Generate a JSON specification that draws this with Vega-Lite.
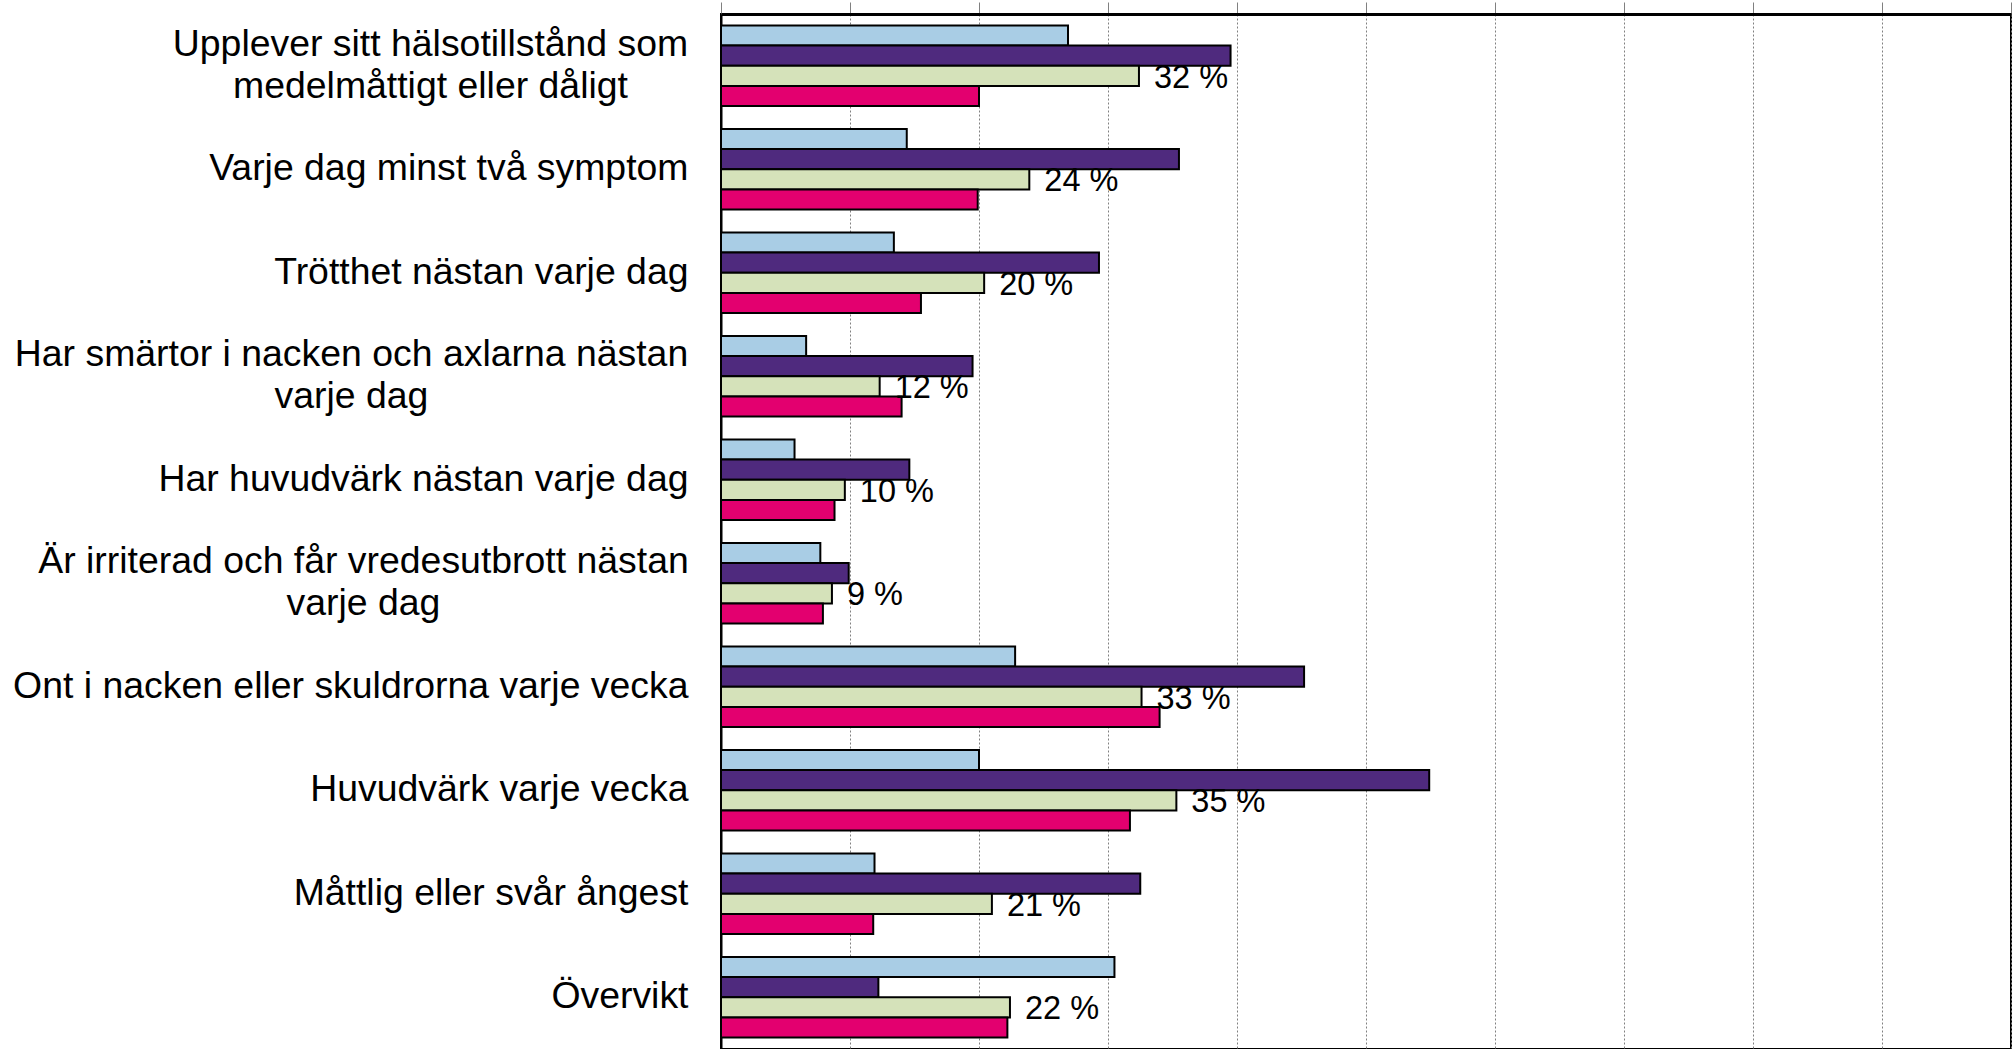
{
  "$schema": "https://vega.github.io/schema/vega-lite/v6.json",
  "width": 1290,
  "height": 1035,
  "autosize": {"type": "none"},
  "padding": {"left": 721, "top": 14, "right": 5, "bottom": 0},
  "background": "white",
  "config": {
    "view": {"stroke": "black", "strokeWidth": 2},
    "font": "Liberation Sans"
  },
  "data": {
    "values": [
      {"category": "Upplever sitt hälsotillstånd som|medelmåttigt eller dåligt", "series": "Serie 1", "value": 26.9},
      {"category": "Upplever sitt hälsotillstånd som|medelmåttigt eller dåligt", "series": "Serie 2", "value": 39.5},
      {"category": "Upplever sitt hälsotillstånd som|medelmåttigt eller dåligt", "series": "Serie 3", "value": 32.4, "label": "32 %"},
      {"category": "Upplever sitt hälsotillstånd som|medelmåttigt eller dåligt", "series": "Serie 4", "value": 20.0},
      {"category": "Varje dag minst två symptom", "series": "Serie 1", "value": 14.4},
      {"category": "Varje dag minst två symptom", "series": "Serie 2", "value": 35.5},
      {"category": "Varje dag minst två symptom", "series": "Serie 3", "value": 23.9, "label": "24 %"},
      {"category": "Varje dag minst två symptom", "series": "Serie 4", "value": 19.9},
      {"category": "Trötthet nästan varje dag", "series": "Serie 1", "value": 13.4},
      {"category": "Trötthet nästan varje dag", "series": "Serie 2", "value": 29.3},
      {"category": "Trötthet nästan varje dag", "series": "Serie 3", "value": 20.4, "label": "20 %"},
      {"category": "Trötthet nästan varje dag", "series": "Serie 4", "value": 15.5},
      {"category": "Har smärtor i nacken och axlarna nästan|varje dag", "series": "Serie 1", "value": 6.6},
      {"category": "Har smärtor i nacken och axlarna nästan|varje dag", "series": "Serie 2", "value": 19.5},
      {"category": "Har smärtor i nacken och axlarna nästan|varje dag", "series": "Serie 3", "value": 12.3, "label": "12 %"},
      {"category": "Har smärtor i nacken och axlarna nästan|varje dag", "series": "Serie 4", "value": 14.0},
      {"category": "Har huvudvärk nästan varje dag", "series": "Serie 1", "value": 5.7},
      {"category": "Har huvudvärk nästan varje dag", "series": "Serie 2", "value": 14.6},
      {"category": "Har huvudvärk nästan varje dag", "series": "Serie 3", "value": 9.6, "label": "10 %"},
      {"category": "Har huvudvärk nästan varje dag", "series": "Serie 4", "value": 8.8},
      {"category": "Är irriterad och får vredesutbrott nästan|varje dag", "series": "Serie 1", "value": 7.7},
      {"category": "Är irriterad och får vredesutbrott nästan|varje dag", "series": "Serie 2", "value": 9.9},
      {"category": "Är irriterad och får vredesutbrott nästan|varje dag", "series": "Serie 3", "value": 8.6, "label": "9 %"},
      {"category": "Är irriterad och får vredesutbrott nästan|varje dag", "series": "Serie 4", "value": 7.9},
      {"category": "Ont i nacken eller skuldrorna varje vecka", "series": "Serie 1", "value": 22.8},
      {"category": "Ont i nacken eller skuldrorna varje vecka", "series": "Serie 2", "value": 45.2},
      {"category": "Ont i nacken eller skuldrorna varje vecka", "series": "Serie 3", "value": 32.6, "label": "33 %"},
      {"category": "Ont i nacken eller skuldrorna varje vecka", "series": "Serie 4", "value": 34.0},
      {"category": "Huvudvärk varje vecka", "series": "Serie 1", "value": 20.0},
      {"category": "Huvudvärk varje vecka", "series": "Serie 2", "value": 54.9},
      {"category": "Huvudvärk varje vecka", "series": "Serie 3", "value": 35.3, "label": "35 %"},
      {"category": "Huvudvärk varje vecka", "series": "Serie 4", "value": 31.7},
      {"category": "Måttlig eller svår ångest", "series": "Serie 1", "value": 11.9},
      {"category": "Måttlig eller svår ångest", "series": "Serie 2", "value": 32.5},
      {"category": "Måttlig eller svår ångest", "series": "Serie 3", "value": 21.0, "label": "21 %"},
      {"category": "Måttlig eller svår ångest", "series": "Serie 4", "value": 11.8},
      {"category": "Övervikt", "series": "Serie 1", "value": 30.5},
      {"category": "Övervikt", "series": "Serie 2", "value": 12.2},
      {"category": "Övervikt", "series": "Serie 3", "value": 22.4, "label": "22 %"},
      {"category": "Övervikt", "series": "Serie 4", "value": 22.2}
    ]
  },
  "encoding": {
    "y": {
      "field": "category",
      "type": "nominal",
      "sort": null,
      "scale": {"paddingInner": 0.22, "paddingOuter": 0.11},
      "axis": {
        "title": null,
        "ticks": false,
        "grid": false,
        "domain": true,
        "domainColor": "black",
        "domainWidth": 2,
        "labelFont": "Liberation Sans",
        "labelFontSize": 37.4,
        "labelColor": "black",
        "labelLimit": 2000,
        "labelOverlap": false,
        "labelBound": false,
        "labelLineHeight": 42,
        "labelBaseline": "middle",
        "labelExpr": "split(datum.label, '|')",
        "labelAlign": {"condition": {"test": "indexof(datum.value, '|') >= 0", "value": "center"}, "value": "right"},
        "labelPadding": {
          "condition": [
            {"test": "indexof(datum.value, 'Upplever') == 0", "value": 291},
            {"test": "indexof(datum.value, 'Har sm') == 0", "value": 370},
            {"test": "indexof(datum.value, 'irriterad') > 0", "value": 358}
          ],
          "value": 33
        },
        "labelOffset": {"condition": {"test": "indexof(datum.value, '|') >= 0", "value": -21}, "value": 0}
      }
    },
    "yOffset": {
      "field": "series",
      "type": "nominal",
      "scale": {"domain": ["Serie 1", "Serie 2", "Serie 3", "Serie 4"], "paddingInner": 0, "paddingOuter": 0}
    },
    "x": {
      "field": "value",
      "type": "quantitative",
      "scale": {"domain": [0, 100], "nice": false},
      "axis": {
        "orient": "top",
        "title": null,
        "labels": false,
        "ticks": true,
        "tickSize": 12,
        "tickColor": "#808080",
        "tickWidth": 1,
        "domain": true,
        "domainColor": "black",
        "domainWidth": 3,
        "grid": true,
        "gridColor": "#808080",
        "gridWidth": 1,
        "gridDash": [2, 2],
        "values": [0, 10, 20, 30, 40, 50, 60, 70, 80, 90, 100]
      }
    }
  },
  "layer": [
    {
      "mark": {"type": "bar", "stroke": "black", "strokeWidth": 2},
      "encoding": {
        "color": {
          "field": "series",
          "type": "nominal",
          "scale": {"domain": ["Serie 1", "Serie 2", "Serie 3", "Serie 4"], "range": ["#A9CDE5", "#4F2A7E", "#D5E2BA", "#E3006F"]},
          "legend": null
        }
      }
    },
    {
      "transform": [{"filter": "datum.label != null"}],
      "mark": {"type": "text", "align": "left", "baseline": "middle", "dx": 15, "dy": 2, "fontSize": 32.5, "font": "Liberation Sans", "color": "black"},
      "encoding": {"text": {"field": "label", "type": "nominal"}}
    }
  ]
}
